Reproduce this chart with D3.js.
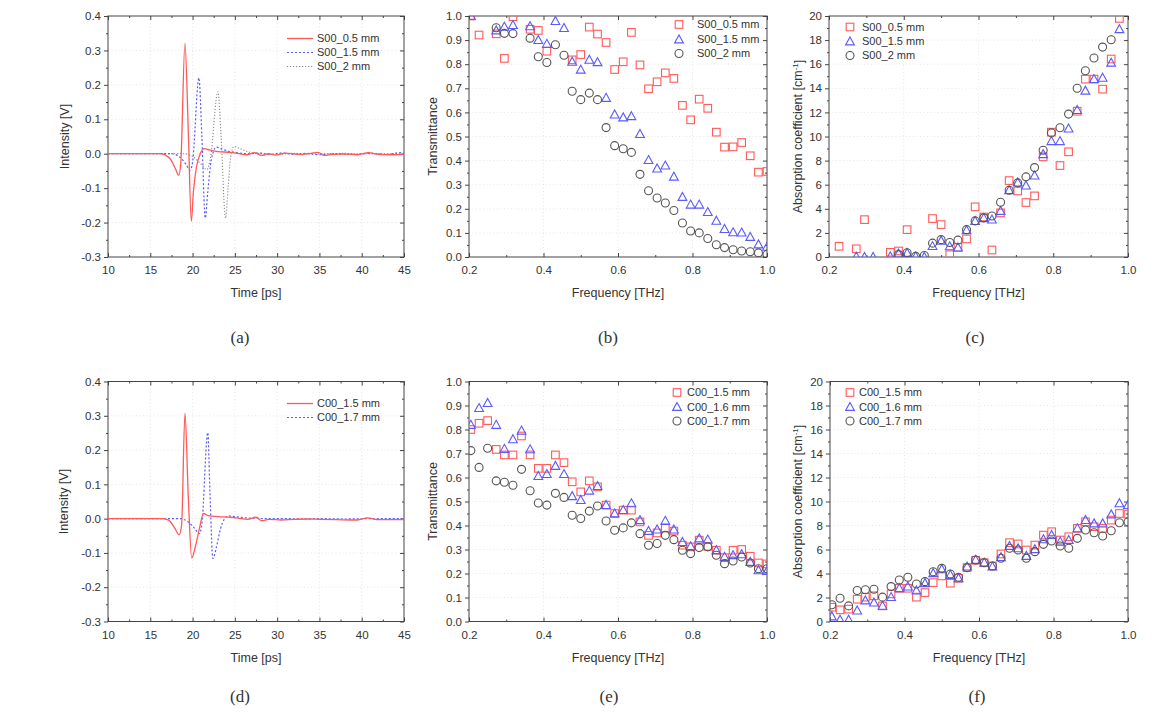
<!DOCTYPE html>
<html><head><meta charset="utf-8">
<script src="https://cdn.jsdelivr.net/npm/d3@7"></script>
<style>
body{margin:0;background:#fff;}
svg text{font-family:"Liberation Sans",Arial,sans-serif;fill:#333;}
</style></head><body>
<svg id="chart" width="1168" height="713"></svg>
<script>
// ---------------- DATA ----------------
const timeTicks = [10,15,20,25,30,35,40,45];
const timeMinor = [12.5,17.5,22.5,27.5,32.5,37.5,42.5];
const intTicks = [-0.3,-0.2,-0.1,0.0,0.1,0.2,0.3,0.4];
const intMinor = [-0.25,-0.15,-0.05,0.05,0.15,0.25,0.35];
const freqTicks = [0.2,0.4,0.6,0.8,1.0];
const freqMinor = [0.3,0.5,0.7,0.9];
const transTicks = [0,0.1,0.2,0.3,0.4,0.5,0.6,0.7,0.8,0.9,1.0];
const transMinor = [0.05,0.15,0.25,0.35,0.45,0.55,0.65,0.75,0.85,0.95];
const absTicks = [0,2,4,6,8,10,12,14,16,18,20];
const absMinor = [1,3,5,7,9,11,13,15,17,19];

// time-domain waveforms [time ps, intensity V]
const aS05 = [[10,0],[16,0],[16.8,-0.004],[17.5,-0.02],[18.0,-0.045],[18.35,-0.063],[18.6,-0.03],[19.1,0.321],[19.5,0.06],[19.85,-0.196],[20.1,-0.11],[20.45,-0.04],[20.9,0.0],[21.4,0.015],[22.0,0.011],[23.0,0.006],[24.5,0.004],[25.5,0.0],[26.5,-0.003],[27.3,0.003],[28.2,-0.005],[29,0.0],[29.8,-0.004],[31,0.002],[32.5,-0.002],[34,0.001],[34.8,0.004],[35.6,-0.005],[36.5,-0.002],[38,-0.001],[39.5,-0.003],[40.8,0.003],[42,-0.002],[43.5,-0.003],[45,-0.002]];
const aS15 = [[10,0],[17.5,0],[18.4,-0.008],[19.2,-0.03],[19.7,-0.048],[20.0,-0.025],[20.75,0.22],[21.1,0.05],[21.5,-0.187],[21.8,-0.11],[22.2,-0.02],[22.8,0.019],[23.5,0.013],[24.3,0.007],[25.2,0.003],[26.5,0.0],[28,0.002],[29,-0.003],[30.5,0.002],[32,-0.002],[33.5,0.001],[35,-0.003],[37,0.0],[39,-0.002],[41,0.001],[43,-0.002],[44.5,0.003],[45,0.002]];
const aS2 = [[10,0],[19,0],[20,-0.008],[21,-0.03],[21.7,-0.046],[22.1,-0.015],[23.0,0.18],[23.35,0.06],[23.9,-0.187],[24.2,-0.1],[24.5,-0.01],[24.9,0.021],[25.5,0.016],[26.3,0.008],[27.2,0.002],[28.5,0.0],[30,-0.002],[32,0.001],[34,-0.001],[36,0.0],[38,0.001],[40,-0.001],[42,0.0],[45,0.0]];
const dC15 = [[10,0],[16.5,0],[17.2,-0.005],[17.9,-0.028],[18.4,-0.047],[18.7,-0.02],[19.1,0.308],[19.5,0.06],[19.9,-0.115],[20.3,-0.085],[20.8,-0.03],[21.3,0.015],[21.8,0.009],[23,0.006],[24.5,0.004],[25.5,0.001],[26.5,-0.002],[27.5,0.004],[28.2,-0.006],[29,-0.002],[30.5,-0.004],[32,-0.002],[33.5,-0.001],[35,-0.002],[37,-0.003],[39.5,-0.004],[40.7,0.002],[42,-0.003],[45,-0.003]];
const dC17 = [[10,0],[18.5,0],[19.5,-0.01],[20.3,-0.03],[20.8,-0.044],[21.1,-0.015],[21.8,0.251],[22.05,0.08],[22.4,-0.116],[22.8,-0.085],[23.3,-0.03],[23.8,0.0],[24.3,0.008],[25,0.006],[26,0.003],[27.5,0.001],[29,0.0],[31,0.0],[33,-0.001],[35,0.0],[38,-0.001],[41,0.0],[45,0.0]];

// frequency samples [THz]
const freq = [0.205,0.227,0.250,0.273,0.295,0.318,0.341,0.364,0.386,0.409,0.432,0.455,0.477,0.500,0.523,0.545,0.568,0.591,0.614,0.636,0.659,0.682,0.705,0.727,0.750,0.773,0.795,0.818,0.841,0.864,0.886,0.909,0.932,0.955,0.977,1.000];

// (b) transmittance S00
const bS05 = [1.0,0.921,null,0.926,0.824,0.997,null,0.945,0.94,0.854,null,null,0.818,0.84,0.954,0.925,0.89,0.778,0.81,0.932,0.797,0.698,0.727,0.764,0.741,0.629,0.569,0.655,0.617,0.518,0.456,0.457,0.475,0.42,0.352,0.355];
const bS15 = [1.0,null,null,0.94,0.955,0.962,null,0.957,0.9,0.884,0.979,0.95,0.81,0.777,0.818,0.808,0.66,0.591,0.579,0.584,0.51,0.402,0.367,0.379,0.333,0.249,0.217,0.217,0.186,0.15,0.116,0.102,0.101,0.083,0.052,0.042];
const bS2 = [null,null,null,0.951,0.928,0.927,null,0.908,0.831,0.807,0.881,0.837,0.688,0.653,0.68,0.653,0.537,0.462,0.449,0.434,0.343,0.275,0.245,0.224,0.193,0.141,0.108,0.1,0.077,0.051,0.039,0.03,0.025,0.022,0.017,0.011];

// (c) absorption coefficient S00
const cS05 = [null,0.89,null,0.68,3.1,null,null,0.39,0.5,2.27,null,null,3.19,2.69,0.19,0.8,1.5,4.16,3.32,0.58,3.66,6.34,5.48,4.52,5.07,8.31,10.36,7.59,8.73,12.1,14.76,14.76,13.93,16.43,19.8,null];
const cS15 = [null,null,null,0.03,0.0,0.0,null,0.05,0.28,0.33,0.05,0.0,0.9,1.35,0.88,0.78,2.22,2.98,3.22,3.1,3.82,5.54,6.18,5.93,6.76,8.53,9.61,9.61,10.66,12.19,13.8,14.76,14.87,16.12,18.9,null];
const cS2 = [null,null,null,null,null,null,null,null,0.2,0.35,0.05,0.12,1.15,1.44,1.2,1.4,2.27,3.0,3.25,3.4,4.54,5.54,6.15,6.65,7.42,8.86,10.3,10.72,11.86,14.0,15.46,16.51,17.42,18.03,null,null];

// (e) transmittance C00
const eC15 = [0.80,0.826,0.837,0.717,0.694,0.694,0.773,0.694,0.638,0.638,0.694,0.662,0.582,0.54,0.586,0.561,0.485,0.45,0.464,0.464,0.415,0.359,0.369,0.39,0.377,0.318,0.311,0.339,0.313,0.297,0.266,0.297,0.3,0.272,0.244,0.24];
const eC16 = [0.819,0.889,0.91,0.819,0.719,0.759,0.795,0.717,0.606,0.614,0.648,0.614,0.522,0.506,0.545,0.564,0.485,0.45,0.464,0.492,0.422,0.377,0.383,0.419,0.383,0.331,0.313,0.346,0.341,0.297,0.269,0.276,0.28,0.248,0.213,0.21];
const eC17 = [0.712,0.642,0.722,0.586,0.58,0.568,0.634,0.545,0.494,0.485,0.534,0.517,0.443,0.429,0.46,0.481,0.419,0.38,0.39,0.411,0.366,0.318,0.325,0.359,0.341,0.297,0.283,0.308,0.311,0.276,0.241,0.252,0.269,0.244,0.22,0.22];

// (f) absorption coefficient C00
const fC15 = [1.19,0.97,1.03,1.86,2.03,2.14,1.3,2.3,2.77,2.77,2.03,2.41,3.24,3.8,3.19,3.6,4.49,5.1,4.9,4.63,5.63,6.57,6.46,5.96,6.37,7.2,7.48,6.79,7.06,7.76,8.31,7.9,7.76,8.45,9.0,8.95];
const fC16 = [0.42,0.14,0.14,0.91,1.75,1.58,1.3,2.03,2.77,2.91,2.58,3.19,4.02,4.35,3.88,3.6,4.57,5.13,4.9,4.57,5.36,6.29,6.1,5.46,6.02,6.85,7.2,6.65,6.79,7.76,8.45,8.17,8.17,8.92,9.85,9.7];
const fC17 = [1.39,1.94,1.3,2.58,2.64,2.69,2.03,2.91,3.46,3.69,3.13,3.32,4.15,4.43,3.96,3.69,4.49,5.13,4.9,4.63,5.27,6.1,5.96,5.27,5.82,6.43,6.71,6.29,6.1,6.93,7.62,7.4,7.12,7.56,8.23,8.3];

// ---------------- DRAWING ----------------
const RED = "#ff5a5a", BLUE = "#5a5aff", GRAY = "#555555";
const svg = d3.select("#chart");
const defs = svg.append("defs");
const f1 = d => d.toFixed(1);
const f0 = d => d.toFixed(0);

function panel(p) {
  const x = d3.scaleLinear().domain(p.xDomain).range([p.x0, p.x1]);
  const y = d3.scaleLinear().domain(p.yDomain).range([p.y1, p.y0]);
  const g = svg.append("g");
  const cid = "clip_" + p.name;
  defs.append("clipPath").attr("id", cid).append("rect")
    .attr("x", p.x0).attr("y", p.y0).attr("width", p.x1 - p.x0).attr("height", p.y1 - p.y0);
  // grid
  const grid = g.append("g").attr("stroke", "#e0e0e0").attr("stroke-width", 0.8).attr("stroke-dasharray", "1,2.5");
  grid.selectAll(".gx").data(p.xTicks.slice(1, -1)).join("line")
    .attr("x1", d => x(d)).attr("x2", d => x(d)).attr("y1", p.y0).attr("y2", p.y1);
  grid.selectAll(".gy").data(p.yTicks.slice(1, -1)).join("line")
    .attr("y1", d => y(d)).attr("y2", d => y(d)).attr("x1", p.x0).attr("x2", p.x1);
  // axes
  const ax = (gen, tx, ty) => {
    const a = g.append("g").attr("transform", `translate(${tx},${ty})`).call(gen);
    a.select(".domain").remove();
    a.selectAll("line").attr("stroke", "#444");
    a.selectAll("text").attr("font-size", 11.5).attr("fill", "#333")
      .attr("font-family", '"Liberation Sans",Arial,sans-serif');
    return a;
  };
  ax(d3.axisBottom(x).tickValues(p.xTicks).tickFormat(p.xFmt).tickSize(-4).tickPadding(9), 0, p.y1);
  ax(d3.axisBottom(x).tickValues(p.xMinor).tickFormat("").tickSize(-2), 0, p.y1);
  ax(d3.axisTop(x).tickValues(p.xTicks).tickFormat("").tickSize(-4), 0, p.y0);
  ax(d3.axisTop(x).tickValues(p.xMinor).tickFormat("").tickSize(-2), 0, p.y0);
  ax(d3.axisLeft(y).tickValues(p.yTicks).tickFormat(p.yFmt).tickSize(4).tickPadding(3), p.x0, 0);
  ax(d3.axisLeft(y).tickValues(p.yMinor).tickFormat("").tickSize(2), p.x0, 0);
  ax(d3.axisRight(y).tickValues(p.yTicks).tickFormat("").tickSize(-4), p.x1, 0);
  ax(d3.axisRight(y).tickValues(p.yMinor).tickFormat("").tickSize(-2), p.x1, 0);
  // frame
  g.append("rect").attr("x", p.x0).attr("y", p.y0).attr("width", p.x1 - p.x0).attr("height", p.y1 - p.y0)
    .attr("fill", "none").attr("stroke", "#444").attr("stroke-width", 1);
  // titles
  g.append("text").attr("x", (p.x0 + p.x1) / 2).attr("y", p.y1 + 40).attr("text-anchor", "middle")
    .attr("font-size", 12.5).text(p.xTitle);
  const yt = g.append("text").attr("transform", `translate(${p.yTitleX},${(p.y0 + p.y1) / 2}) rotate(-90)`)
    .attr("text-anchor", "middle").attr("dy", "0.35em").attr("font-size", 12.5);
  if (p.sup) {
    yt.append("tspan").text(p.yTitle);
    yt.append("tspan").attr("font-size", 8).attr("dy", "-0.6em").text(p.sup);
    yt.append("tspan").attr("dy", "0.45em").text("]");
  } else yt.text(p.yTitle);
  // panel label
  svg.append("text").attr("x", p.labX).attr("y", p.labY).attr("text-anchor", "middle")
    .style("font-family", '"Liberation Serif","Times New Roman",serif')
    .attr("font-size", 17).attr("fill", "#222").text(p.label);
  const plot = g.append("g").attr("clip-path", `url(#${cid})`);
  return { x, y, g, plot };
}

function marker(sel, kind, color) {
  if (kind === "sq") sel.append("rect").attr("x", -3.8).attr("y", -3.8).attr("width", 7.6).attr("height", 7.6);
  else if (kind === "tri") sel.append("path").attr("d", "M0,-4.6L4.4,3.4L-4.4,3.4Z");
  else sel.append("circle").attr("r", 4);
  sel.selectAll("rect,path,circle").attr("fill", "none").attr("stroke", color).attr("stroke-width", 1.1);
}

function scatter(P, vals, kind, color) {
  const pts = freq.map((f, i) => [f, vals[i]]).filter(d => d[1] !== null);
  P.plot.append("g").selectAll("g").data(pts).join("g")
    .attr("transform", d => `translate(${P.x(d[0])},${P.y(d[1])})`)
    .each(function () { marker(d3.select(this), kind, color); });
}

function wave(P, data, color, dash, width) {
  const line = d3.line().x(d => P.x(d[0])).y(d => P.y(d[1])).curve(d3.curveMonotoneX);
  P.plot.append("path").datum(data).attr("d", line).attr("fill", "none")
    .attr("stroke", color).attr("stroke-width", width).attr("stroke-dasharray", dash);
}

function lineLegend(P, x1, x2, tx, rows) {
  rows.forEach(r => {
    P.g.append("line").attr("x1", x1).attr("x2", x2).attr("y1", r.y).attr("y2", r.y)
      .attr("stroke", r.color).attr("stroke-width", r.w).attr("stroke-dasharray", r.dash);
    P.g.append("text").attr("x", tx).attr("y", r.y).attr("dy", "0.35em").attr("font-size", 11).text(r.text);
  });
}
function markLegend(P, mx, tx, rows) {
  rows.forEach(r => {
    const s = P.g.append("g").attr("transform", `translate(${mx},${r.y})`);
    marker(s, r.kind, r.color);
    P.g.append("text").attr("x", tx).attr("y", r.y).attr("dy", "0.35em").attr("font-size", 11).text(r.text);
  });
}

const timeP = { xDomain: [10, 45], yDomain: [-0.3, 0.4], xTicks: timeTicks, xMinor: timeMinor, yTicks: intTicks, yMinor: intMinor, xFmt: f0, yFmt: f1, xTitle: "Time [ps]", yTitle: "Intensity [V]" };
const transP = { xDomain: [0.2, 1.0], yDomain: [0, 1], xTicks: freqTicks, xMinor: freqMinor, yTicks: transTicks, yMinor: transMinor, xFmt: f1, yFmt: f1, xTitle: "Frequency [THz]", yTitle: "Transmittance" };
const absP = { xDomain: [0.2, 1.0], yDomain: [0, 20], xTicks: freqTicks, xMinor: freqMinor, yTicks: absTicks, yMinor: absMinor, xFmt: f1, yFmt: f0, xTitle: "Frequency [THz]", yTitle: "Absorption coefficient [cm", sup: "-1" };

// (a)
const A = panel(Object.assign({}, timeP, { name: "a", x0: 108, x1: 404, y0: 16, y1: 257, yTitleX: 65, label: "(a)", labX: 240, labY: 343 }));
wave(A, aS2, "#8a8a8a", "1.2,1.8", 1.1);
wave(A, aS15, BLUE, "2,2", 1.2);
wave(A, aS05, RED, null, 1.3);
lineLegend(A, 287, 313, 317, [
  { y: 38.5, color: RED, dash: null, w: 1.3, text: "S00_0.5 mm" },
  { y: 52.5, color: BLUE, dash: "2,2", w: 1.2, text: "S00_1.5 mm" },
  { y: 66.5, color: "#8a8a8a", dash: "1.2,1.8", w: 1.1, text: "S00_2 mm" }]);

// (b)
const B = panel(Object.assign({}, transP, { name: "b", x0: 469, x1: 767, y0: 16, y1: 257, yTitleX: 433, label: "(b)", labX: 608, labY: 343 }));
scatter(B, bS05, "sq", RED);
scatter(B, bS15, "tri", BLUE);
scatter(B, bS2, "ci", GRAY);
markLegend(B, 679, 697, [
  { y: 24.5, kind: "sq", color: RED, text: "S00_0.5 mm" },
  { y: 39.5, kind: "tri", color: BLUE, text: "S00_1.5 mm" },
  { y: 53.5, kind: "ci", color: GRAY, text: "S00_2 mm" }]);

// (c)
const C = panel(Object.assign({}, absP, { name: "c", x0: 829, x1: 1128, y0: 16, y1: 257, yTitleX: 798, label: "(c)", labX: 975, labY: 343 }));
scatter(C, cS05, "sq", RED);
scatter(C, cS15, "tri", BLUE);
scatter(C, cS2, "ci", GRAY);
markLegend(C, 850, 862, [
  { y: 27, kind: "sq", color: RED, text: "S00_0.5 mm" },
  { y: 41.5, kind: "tri", color: BLUE, text: "S00_1.5 mm" },
  { y: 55.5, kind: "ci", color: GRAY, text: "S00_2 mm" }]);

// (d)
const D = panel(Object.assign({}, timeP, { name: "d", x0: 108, x1: 404, y0: 381.5, y1: 621.5, yTitleX: 64, label: "(d)", labX: 240, labY: 702 }));
wave(D, dC17, BLUE, "2,2", 1.2);
wave(D, dC15, RED, null, 1.3);
lineLegend(D, 287, 313, 317, [
  { y: 403.5, color: RED, dash: null, w: 1.3, text: "C00_1.5 mm" },
  { y: 417.5, color: BLUE, dash: "2,2", w: 1.2, text: "C00_1.7 mm" }]);

// (e)
const E = panel(Object.assign({}, transP, { name: "e", x0: 469, x1: 767, y0: 381.5, y1: 621.5, yTitleX: 433, label: "(e)", labX: 609, labY: 702 }));
scatter(E, eC15, "sq", RED);
scatter(E, eC16, "tri", BLUE);
scatter(E, eC17, "ci", GRAY);
markLegend(E, 677, 687, [
  { y: 392.5, kind: "sq", color: RED, text: "C00_1.5 mm" },
  { y: 407, kind: "tri", color: BLUE, text: "C00_1.6 mm" },
  { y: 421, kind: "ci", color: GRAY, text: "C00_1.7 mm" }]);

// (f)
const F = panel(Object.assign({}, absP, { name: "f", x0: 830, x1: 1128, y0: 381.5, y1: 621.5, yTitleX: 798, label: "(f)", labX: 977, labY: 702 }));
scatter(F, fC15, "sq", RED);
scatter(F, fC16, "tri", BLUE);
scatter(F, fC17, "ci", GRAY);
markLegend(F, 850, 859, [
  { y: 392.5, kind: "sq", color: RED, text: "C00_1.5 mm" },
  { y: 407, kind: "tri", color: BLUE, text: "C00_1.6 mm" },
  { y: 421, kind: "ci", color: GRAY, text: "C00_1.7 mm" }]);
</script>
</body></html>
